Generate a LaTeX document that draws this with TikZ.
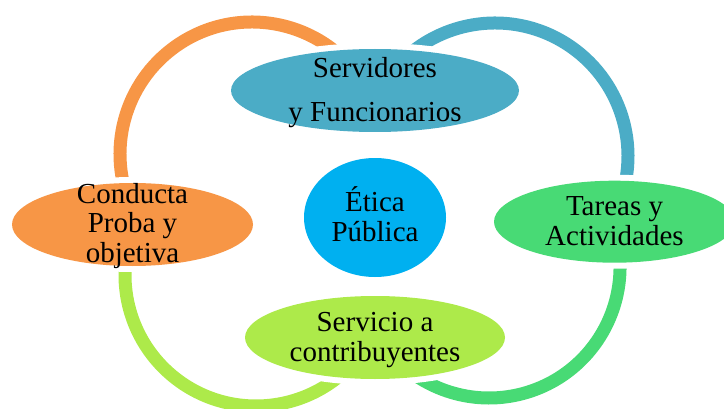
\documentclass[tikz,border=0pt]{standalone}
\usepackage{fontspec}
\setmainfont{Liberation Serif}
\usetikzlibrary{shapes.geometric}
\definecolor{orangeC}{HTML}{F79646}
\definecolor{blueC}{HTML}{4BACC6}
\definecolor{cyanC}{HTML}{00B0F0}
\definecolor{greenC}{HTML}{48DA75}
\definecolor{limeC}{HTML}{ADEA4A}
\tikzset{
  ring/.style={line width=13pt},
  bub/.style={ellipse, inner sep=0pt, draw=none, preaction={draw=white, line width=12pt}},
  txt/.style={anchor=base, inner sep=0pt, font=\fontsize{29}{30}\selectfont, text=black}
}
\begin{document}
\begin{tikzpicture}[x=1pt,y=1pt]
\useasboundingbox (0,0) rectangle (724,408);
\clip (0,0) rectangle (724,408);
% ring arcs
\coordinate (co) at (252,254);
\coordinate (cb) at (495,252);
\coordinate (cg) at (489,141);
\coordinate (cl) at (256,133);
\draw[ring, orangeC] (co) ++(35:132) arc[start angle=35, end angle=205, radius=132];
\draw[ring, blueC] (cb) ++(145:133) arc[start angle=145, end angle=-25, radius=133];
\draw[ring, greenC] (cg) ++(15:131) arc[start angle=15, end angle=-135, radius=131];
\draw[ring, limeC] (cl) ++(-40:131) arc[start angle=-40, end angle=-195, radius=131];
% ellipses
\node[bub, fill=blueC, minimum width=288pt, minimum height=83pt] (serv) at (375,317.5) {};
\node[bub, fill=orangeC, minimum width=241pt, minimum height=83pt] (cond) at (132.5,183.5) {};
\node[bub, fill=cyanC, minimum width=142pt, minimum height=119pt] (etica) at (375,190.5) {};
\node[bub, fill=greenC, minimum width=241pt, minimum height=82pt] (tareas) at (614.5,186.3) {};
\node[bub, fill=limeC, minimum width=260pt, minimum height=83pt] (servicio) at (375,70.5) {};
% texts
\node[txt] (s1) at (375,330) {Servidores};
\node[txt] (s2) at (375,287) {y Funcionarios};
\node[txt] (c1) at (132.5,205) {Conducta};
\node[txt] (c2) at (132.5,175.5) {Proba y};
\node[txt] (c3) at (132.5,146) {objetiva};
\node[txt] (e1) at (375,196.3) {Ética};
\node[txt] (e2) at (375,166.3) {Pública};
\node[txt] (t1) at (614.5,193) {Tareas y};
\node[txt] (t2) at (614.5,163) {Actividades};
\node[txt] (v1) at (375,76.3) {Servicio a};
\node[txt] (v2) at (375,46.3) {contribuyentes};
\end{tikzpicture}
\end{document}
